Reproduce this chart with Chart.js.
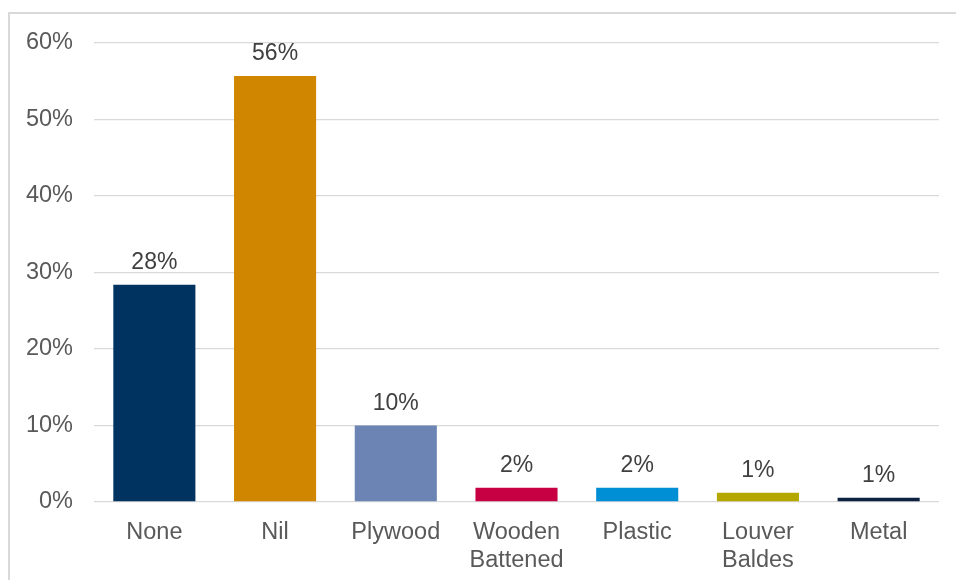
<!DOCTYPE html>
<html>
<head>
<meta charset="utf-8">
<script src="https://cdn.jsdelivr.net/npm/chart.js@4.4.1/dist/chart.umd.min.js"></script>
<style>
  html, body { margin: 0; padding: 0; background: #fff; overflow: hidden; }
  #frame { position: absolute; left: 8px; top: 12px; width: 1000px; height: 600px;
           border-left: 2px solid #d9d9d9; border-top: 2px solid #d9d9d9; }
  #wrap { position: absolute; left: 0; top: 0; width: 956px; height: 580px; }
</style>
</head>
<body>
<div id="frame"></div>
<div id="wrap"><canvas id="chart" width="956" height="580"></canvas></div>
<script>
  // shutter types
  const categories = ["None", "Nil", "Plywood", ["Wooden", "Battened"], "Plastic", ["Louver", "Baldes"], "Metal"];
  const values = [28.4, 55.7, 10.0, 1.85, 1.85, 1.2, 0.56];
  const valueLabels = ["28%", "56%", "10%", "2%", "2%", "1%", "1%"];
  const barColors = ["#00335F", "#D18600", "#6B84B3", "#C60042", "#008FD5", "#B4A800", "#0D2240"];
  const yTicks = [0, 10, 20, 30, 40, 50, 60];

  const FONT = "'Liberation Sans', Arial, sans-serif";

  // labels above bars
  const barLabels = {
    id: 'barLabels',
    afterDatasetsDraw(chart) {
      const ctx = chart.ctx;
      const meta = chart.getDatasetMeta(0);
      ctx.save();
      ctx.font = "23px " + FONT;
      ctx.fillStyle = "#404040";
      ctx.textAlign = "center";
      ctx.textBaseline = "alphabetic";
      meta.data.forEach((bar, i) => {
        ctx.fillText(valueLabels[i], bar.x, bar.y - 16);
      });
      ctx.restore();
    }
  };

  new Chart(document.getElementById('chart'), {
    type: 'bar',
    data: {
      labels: categories,
      datasets: [{
        data: values,
        backgroundColor: barColors,
        borderWidth: 0,
        categoryPercentage: 1,
        barPercentage: 0.68
      }]
    },
    options: {
      responsive: false,
      animation: false,
      layout: { padding: { top: 43, right: 17, bottom: 0, left: 0 } },
      plugins: { legend: { display: false }, tooltip: { enabled: false } },
      scales: {
        x: {
          afterFit(scale) { scale.height = 78; },
          grid: { display: false, drawTicks: false },
          border: { display: false },
          ticks: {
            color: "#595959",
            padding: 17,
            maxRotation: 0,
            autoSkip: false,
            font: { family: FONT, size: 23.5, lineHeight: 1.18 }
          }
        },
        y: {
          min: 0,
          max: 60,
          afterBuildTicks(scale) {
            scale.ticks = yTicks.map(v => ({ value: v }));
          },
          afterFit(scale) { scale.width = 94; },
          grid: { color: "#d9d9d9", lineWidth: 1.3, drawTicks: false },
          border: { display: false },
          ticks: {
            color: "#595959",
            padding: 21,
            font: { family: FONT, size: 23.5 },
            callback: v => v + "%"
          }
        }
      }
    },
    plugins: [barLabels]
  });
</script>
</body>
</html>
